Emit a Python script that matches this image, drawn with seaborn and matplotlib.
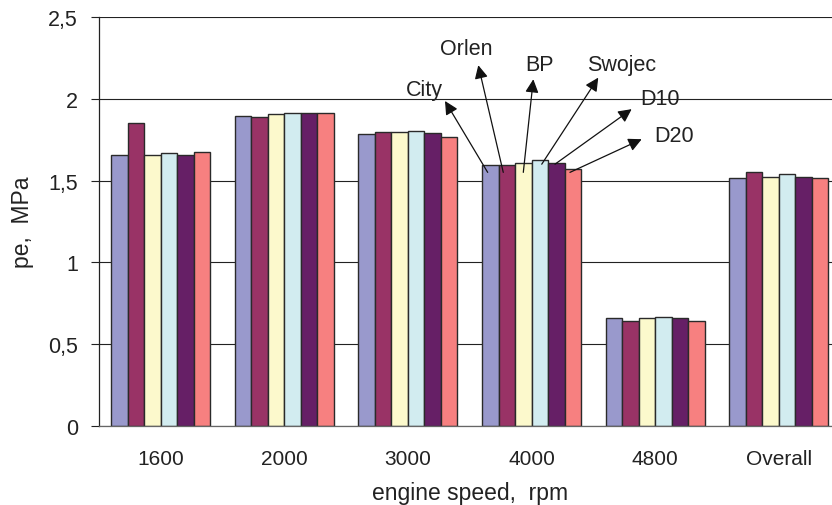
import numpy as np
import pandas as pd
import matplotlib
matplotlib.use('Agg')
import matplotlib.pyplot as plt
from matplotlib.ticker import FuncFormatter
import seaborn as sns

# values
speeds = ['1600', '2000', '3000', '4000', '4800', 'Overall']
fuels = ['City', 'Orlen', 'BP', 'Swojec', 'D10', 'D20']
city = [1.655, 1.897, 1.785, 1.595, 0.660, 1.518]
orlen = [1.854, 1.891, 1.797, 1.595, 0.642, 1.554]
bp = [1.655, 1.911, 1.797, 1.606, 0.660, 1.524]
swojec = [1.669, 1.917, 1.805, 1.624, 0.668, 1.538]
d10 = [1.655, 1.917, 1.793, 1.606, 0.660, 1.524]
d20 = [1.677, 1.917, 1.768, 1.571, 0.642, 1.514]

colors = ['#9999cc', '#993366', '#fcf9cc', '#d2ecf0', '#661f66', '#f78080']

rows = []
for fuel, vals in zip(fuels, [city, orlen, bp, swojec, d10, d20]):
    for s, v in zip(speeds, vals):
        rows.append({'speed': s, 'fuel': fuel, 'pe': v})
df = pd.DataFrame(rows)

sns.set_style('white')
plt.rcParams['font.family'] = ['Liberation Sans', 'DejaVu Sans']

fig = plt.figure(figsize=(8.32, 5.06), dpi=100)
ax = fig.add_axes([0.1186, 0.1567, 0.892, 0.807])

sns.barplot(data=df, x='speed', y='pe', hue='fuel', order=speeds, hue_order=fuels,
            palette=colors, saturation=1, width=0.8, errorbar=None, edgecolor='#2a2a2a',
            linewidth=1.0, legend=False, ax=ax, zorder=2)

ax.set_xlim(-0.5, 5.5)
ax.set_ylim(0, 2.5)
ax.set_yticks([0, 0.5, 1, 1.5, 2, 2.5])
ax.yaxis.set_major_formatter(FuncFormatter(lambda v, _: f'{v:g}'.replace('.', ',')))
ax.yaxis.grid(True, color='#222222', lw=0.8, zorder=0)
ax.set_axisbelow(True)

# category separators as minor ticks
ax.set_xticks(np.arange(-0.5, 6, 1), minor=True)
ax.tick_params(axis='x', which='major', length=0, pad=17, labelsize=15, colors='#222222')
ax.tick_params(axis='x', which='minor', length=5, width=1, color='#777777', direction='out')
ax.tick_params(axis='y', length=6, width=0.8, color='#222222', direction='out', pad=9,
               labelsize=15.5, labelcolor='#222222', left=True)

for side in ['top', 'right']:
    ax.spines[side].set_visible(False)
ax.spines['left'].set_color('#222222')
ax.spines['left'].set_linewidth(0.9)
ax.spines['bottom'].set_color('#666666')
ax.spines['bottom'].set_linewidth(0.9)

ax.set_xlabel('engine speed,  rpm', fontsize=16.5, color='#222222', labelpad=9)
ax.set_ylabel('pe,  MPa', fontsize=16.5, color='#222222', labelpad=10)

# arrow labels on the 4000 group
labels = [
    ('City', (2.645, 1.551), (2.300, 1.988), (2.130, 2.06)),
    ('Orlen', (2.771, 1.551), (2.569, 2.207), (2.475, 2.311)),
    ('BP', (2.933, 1.551), (3.014, 2.121), (3.060, 2.213)),
    ('Swojec', (3.082, 1.601), (3.539, 2.131), (3.728, 2.213)),
    ('D10', (3.189, 1.601), (3.809, 1.938), (4.038, 2.005)),
    ('D20', (3.310, 1.551), (3.890, 1.754), (4.151, 1.774)),
]
for name, tail, head, pos in labels:
    ax.annotate('', xy=head, xytext=tail,
                arrowprops=dict(arrowstyle='-|>', color='#111111', lw=0.9,
                                mutation_scale=20, shrinkA=0, shrinkB=0), zorder=5)
    ax.text(pos[0], pos[1], name, fontsize=15.5, color='#222222',
            ha='center', va='center', zorder=6)

fig.savefig('out.png', dpi=100)
